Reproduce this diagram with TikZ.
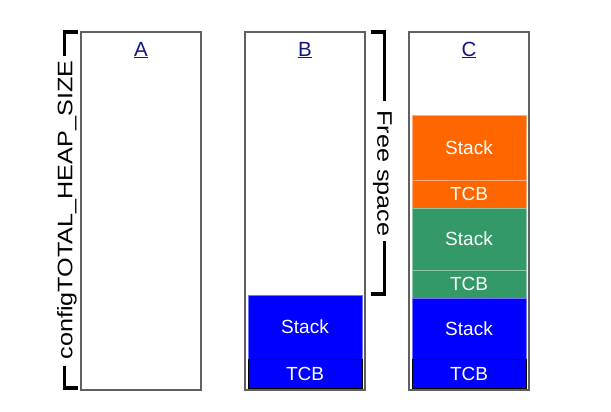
\documentclass[tikz,border=0pt]{standalone}
\usepackage{fontspec}
\setmainfont{Liberation Sans}
\definecolor{boxgray}{RGB}{96,96,96}
\definecolor{blkblue}{RGB}{0,0,255}
\definecolor{blkorange}{RGB}{255,102,0}
\definecolor{blkgreen}{RGB}{51,153,102}
\definecolor{labnavy}{RGB}{20,20,130}
\begin{document}
\begin{tikzpicture}[x=1pt,y=-1pt,
  colbox/.style={draw=boxgray,line width=1.1pt,minimum width=120pt,minimum height=358pt,inner sep=0pt,outer sep=0pt,anchor=north west},
  blk/.style={fill=#1,draw=#1!55!white,line width=0.8pt,minimum width=114pt,inner sep=0pt,outer sep=0pt,anchor=north west,text=white,font=\fontsize{19}{20}\selectfont},
  collabel/.style={text=labnavy,font=\fontsize{20.5}{22}\selectfont,inner sep=0pt},
  brk/.style={line width=3.2pt,line cap=butt},
  brklabel/.style={font=\fontsize{21}{22}\selectfont,inner sep=0pt}]
\useasboundingbox (0,0) rectangle (611,412);
% columns
\node[colbox] (A) at (81,32) {};
\node[colbox] (B) at (245,32) {};
\node[colbox] (C) at (409,32) {};
\node[collabel] (Alab) at (141,50) {\underline{A}};
\node[collabel] (Blab) at (305,50) {\underline{B}};
\node[collabel] (Clab) at (469,50) {\underline{C}};
% blocks in B
\node[blk=blkblue,minimum height=64pt] (Bstack) at (248,295) {Stack};
\node[blk=blkblue,minimum height=29pt,draw=black] (Btcb) at (248,359) {TCB};
% blocks in C
\node[blk=blkorange,minimum height=65pt] (C3stack) at (412,115) {Stack};
\node[blk=blkorange,minimum height=28pt] (C3tcb) at (412,180) {TCB};
\node[blk=blkgreen,minimum height=62pt] (C2stack) at (412,208) {Stack};
\node[blk=blkgreen,minimum height=28pt] (C2tcb) at (412,270) {TCB};
\node[blk=blkblue,minimum height=61pt] (C1stack) at (412,298) {Stack};
\node[blk=blkblue,minimum height=29pt,draw=black] (C1tcb) at (412,359) {TCB};
% left bracket
\node[brklabel,rotate=90,xscale=1.2] (heap) at (67,210) {configTOTAL\_HEAP\_SIZE};
\coordinate (lt) at (78,32);
\coordinate (lb) at (78,388);
\draw[brk] (lt) -- (64.5,32) -- (64.5,56);
\draw[brk] (64.5,366) -- (64.5,388) -- (lb);
% right bracket
\node[brklabel,rotate=-90,xscale=1.2] (free) at (382.5,173.5) {Free space};
\coordinate (rt) at (371,32);
\coordinate (rb) at (371,294);
\draw[brk] (rt) -- (384.5,32) -- (384.5,101);
\draw[brk] (384.5,241) -- (384.5,294) -- (rb);
\end{tikzpicture}
\end{document}
